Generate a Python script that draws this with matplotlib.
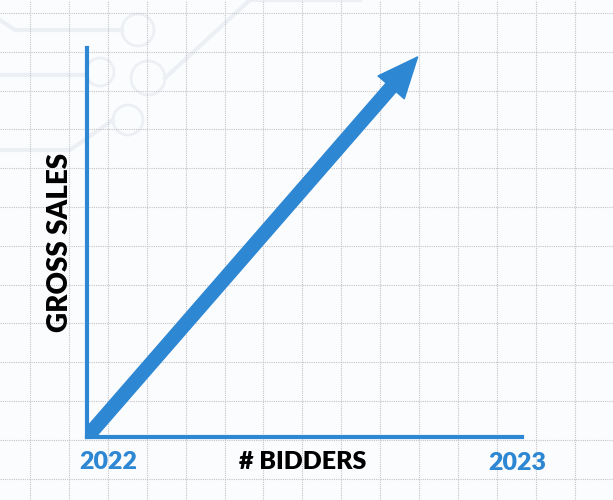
import matplotlib.pyplot as plt
from matplotlib.patches import FancyArrowPatch, Circle

# 概念圖：起點 2022，終點 2023，箭頭表示成長
years = ["2022", "2023"]
x_label = "# BIDDERS"
y_label = "GROSS SALES"
arrow_start = (0.0, 0.0)
arrow_end = (0.76, 0.977)

blue = "#2d87d3"
fig = plt.figure(figsize=(6.13, 5.0), dpi=100)
fig.patch.set_facecolor("#fbfcfe")

# 方格紙背景
bg = fig.add_axes([0, 0, 1, 1])
bg.set_xlim(0, 613)
bg.set_ylim(500, 0)
bg.axis("off")

# 淡淡的電路紋路
faint = "#eceff4"
for cx, cy, r in [(138, 30, 16), (100, 72, 14), (148, 78, 17), (128, 120, 15)]:
    bg.add_patch(Circle((cx, cy), r, fill=False, ec=faint, lw=2))
bg.plot([0, 15, 122], [20, 30, 30], color=faint, lw=3)
bg.plot([0, 84], [75, 75], color=faint, lw=3)
bg.plot([165, 250, 360], [78, 0, 0], color=faint, lw=3)
bg.plot([0, 70, 113], [150, 150, 120], color=faint, lw=3)

for k in range(16):
    bg.axvline(30 + 38.9 * k, color="#c4c4c8", lw=0.8, ls=(0, (1, 1)))
for k in range(13):
    bg.axhline(13 + 38.8 * k, color="#c4c4c8", lw=0.8, ls=(0, (1, 1)))

# 主圖
ax = fig.add_axes([87 / 613, 63 / 500, 435 / 613, 389 / 500])
ax.set_xlim(0, 1)
ax.set_ylim(0, 1)
ax.patch.set_alpha(0)
for side in ["top", "right"]:
    ax.spines[side].set_visible(False)
for side in ["left", "bottom"]:
    ax.spines[side].set_color(blue)
    ax.spines[side].set_linewidth(3)
ax.set_xticks([])
ax.set_yticks([])

arrow = FancyArrowPatch(arrow_start, arrow_end,
                        arrowstyle="simple,head_length=2.9,head_width=2.5,tail_width=0.95",
                        mutation_scale=10, color=blue, shrinkA=0, shrinkB=0)
ax.add_patch(arrow)

font = dict(family="Lato", fontweight="heavy", fontsize=18)
ax.text(0.05, -0.065, years[0], color=blue, ha="center", va="center",
        transform=ax.transAxes, **font)
ax.text(0.99, -0.067, years[1], color=blue, ha="center", va="center",
        transform=ax.transAxes, **font)
ax.text(0.495, -0.065, x_label, color="black", ha="center", va="center",
        transform=ax.transAxes, **font)
ax.text(-0.062, 0.5, y_label, color="black", ha="center", va="center",
        rotation=90, transform=ax.transAxes, family="Lato", fontweight="heavy",
        fontsize=20)

plt.savefig("out.png", dpi=100, facecolor=fig.get_facecolor())
